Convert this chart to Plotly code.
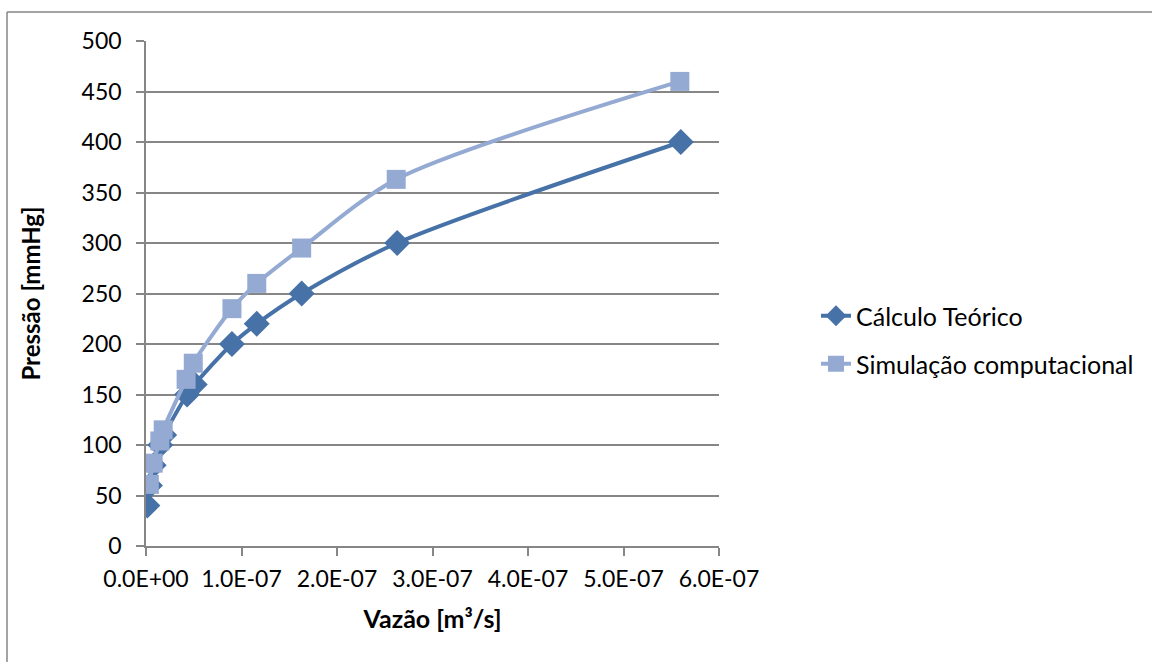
import plotly.graph_objects as go

# Data
vazao_teorico = [1.4e-9, 4.1e-9, 8.0e-9, 1.5e-8, 1.9e-8, 4.3e-8, 5.1e-8, 9.0e-8, 1.16e-7, 1.63e-7, 2.63e-7, 5.6e-7]
pressao_teorico = [40, 60, 80, 100, 110, 150, 160, 200, 220, 250, 300, 400]

vazao_sim = [3.5e-9, 7.5e-9, 1.45e-8, 1.8e-8, 4.2e-8, 4.95e-8, 9.0e-8, 1.16e-7, 1.63e-7, 2.62e-7, 5.59e-7]
pressao_sim = [61, 82, 104, 115, 165, 181, 235, 260, 295, 363, 460]

x_ticks = [0, 1e-7, 2e-7, 3e-7, 4e-7, 5e-7, 6e-7]
x_tick_labels = ["0.0E+00", "1.0E-07", "2.0E-07", "3.0E-07", "4.0E-07", "5.0E-07", "6.0E-07"]

FONT = "Lato"
FS = 23
c1 = "#4672A8"
c2 = "#94AAD2"

fig = go.Figure()
fig.add_trace(go.Scatter(
    x=vazao_teorico, y=pressao_teorico, name="Cálculo Teórico",
    mode="lines+markers", legend="legend",
    line=dict(color=c1, width=4, shape="spline", smoothing=0.8),
    marker=dict(symbol="diamond", size=20, color=c1),
))
fig.add_trace(go.Scatter(
    x=vazao_sim, y=pressao_sim, name="Simulação computacional",
    mode="lines+markers", legend="legend2",
    line=dict(color=c2, width=4, shape="spline", smoothing=0.8),
    marker=dict(symbol="square", size=19, color=c2),
))

L, R, T, B = 146, 719, 41, 546
W, H = 1152, 662
pw, ph = R - L, B - T

def px(xp):
    return (xp - L) / pw

def py(yp):
    return (B - yp) / ph

leg_common = dict(
    xanchor="left", yanchor="middle",
    font=dict(family=FONT, size=25, color="black"),
    bgcolor="rgba(0,0,0,0)", borderwidth=0,
)

fig.update_layout(
    width=W, height=H,
    margin=dict(l=L, r=W - R, t=T, b=H - B),
    paper_bgcolor="white", plot_bgcolor="white",
    font=dict(family=FONT, size=FS, color="black"),
    showlegend=True,
    legend=dict(x=px(816), y=py(316), **leg_common),
    legend2=dict(x=px(816), y=py(364), **leg_common),
    xaxis=dict(
        range=[0, 6e-7], tickvals=x_ticks, ticktext=x_tick_labels,
        showgrid=False, zeroline=False,
        showline=True, linecolor="#868686", linewidth=1.5,
        ticks="outside", ticklen=8, tickcolor="#868686", tickwidth=1.5,
        tickfont=dict(family=FONT, size=FS),
        ticklabelstandoff=4,
        title=dict(text="<b>Vazão [m³/s]</b>", font=dict(family=FONT, size=25), standoff=19),
    ),
    yaxis=dict(
        range=[0, 500], tickvals=list(range(0, 501, 50)),
        showgrid=True, gridcolor="#868686", gridwidth=1.5,
        zeroline=False,
        showline=True, linecolor="#868686", linewidth=1.5,
        ticks="outside", ticklen=8, tickcolor="#868686", tickwidth=1.5,
        tickfont=dict(family=FONT, size=FS),
        ticklabelstandoff=10,
        title=dict(text="<b>Pressão [mmHg]</b>", font=dict(family=FONT, size=24), standoff=34),
    ),
    shapes=[
        dict(type="line", xref="paper", yref="paper",
             x0=px(7), x1=px(1152), y0=py(12), y1=py(12),
             line=dict(color="#868686", width=1.5)),
        dict(type="line", xref="paper", yref="paper",
             x0=px(7), x1=px(7), y0=py(12), y1=py(662),
             line=dict(color="#868686", width=1.5)),
    ],
)

fig.write_html("out.html")
